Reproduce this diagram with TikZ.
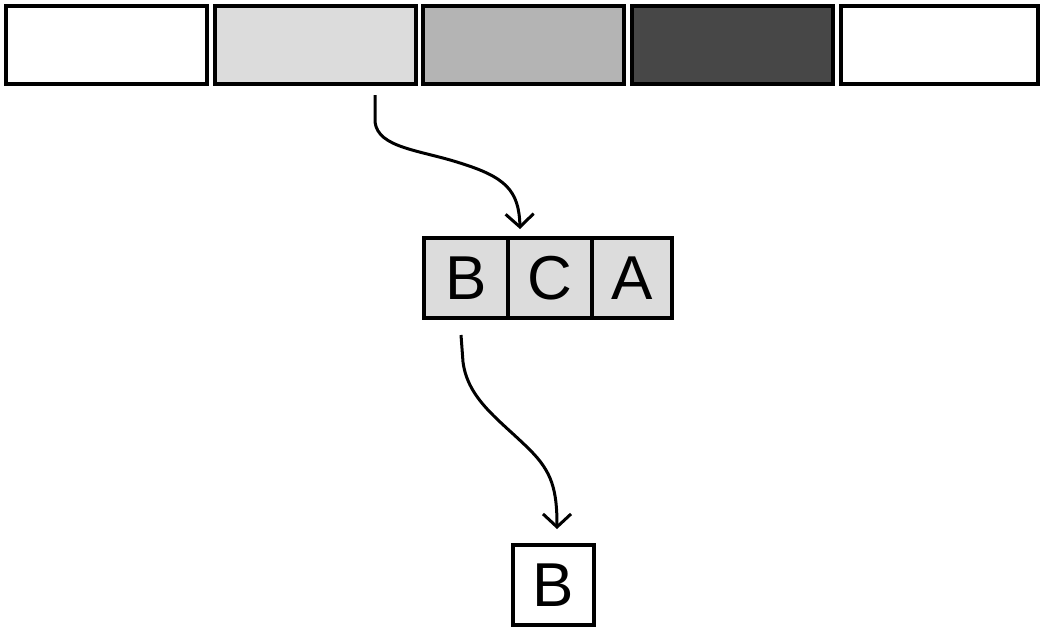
\documentclass[tikz,border=0pt]{standalone}
\usepackage{fontspec}
\setmainfont{Liberation Sans}
\usetikzlibrary{arrows.meta}
\definecolor{lgray}{HTML}{DCDCDC}
\definecolor{mgray}{HTML}{B4B4B4}
\definecolor{dgray}{HTML}{474747}
\tikzset{
  cell/.style={draw=black, line width=4.5pt, rectangle, inner sep=0pt, outer sep=0pt,
               minimum width=201pt, minimum height=78pt},
  letter/.style={draw=black, line width=4pt, rectangle, inner sep=0pt, outer sep=0pt,
               minimum height=80pt, font=\fontsize{62pt}{62pt}\selectfont},
  conn/.style={line width=3pt, -{Straight Barb[length=13pt,width=28pt,line width=3pt]}}
}
\begin{document}
\begin{tikzpicture}[x=1pt,y=-1pt]
\useasboundingbox (0,0) rectangle (1043,630);
% top row
\node[cell, fill=white] (t1) at (106.5,45) {};
\node[cell, fill=lgray] (t2) at (315.5,45) {};
\node[cell, fill=mgray] (t3) at (523.5,45) {};
\node[cell, fill=dgray] (t4) at (732.5,45) {};
\node[cell, fill=white, minimum width=197pt] (t5) at (939.5,45) {};
% middle
\node[letter, fill=lgray, minimum width=84pt] (mb) at (466,278) {B};
\node[letter, fill=lgray, minimum width=84pt] (mc) at (550,278) {C};
\node[letter, fill=lgray, minimum width=80pt] (ma) at (632,278) {A};
% bottom
\node[letter, fill=white, minimum width=81pt] (bb) at (553.5,585) {B};
% connectors
\coordinate (s1) at (375,95);
\coordinate (e1) at (520,229);
\coordinate (s2) at (461,335);
\coordinate (e2) at (557,529);
\draw[conn] (s1) -- (375,122) .. controls (378,148) and (420,150) .. (460,163)
  .. controls (505,177) and (519,190) .. (e1);
\draw[conn] (s2) -- (463,362) .. controls (468,400) and (500,420) .. (530,450)
  .. controls (552,472) and (557,490) .. (e2);
\end{tikzpicture}
\end{document}
